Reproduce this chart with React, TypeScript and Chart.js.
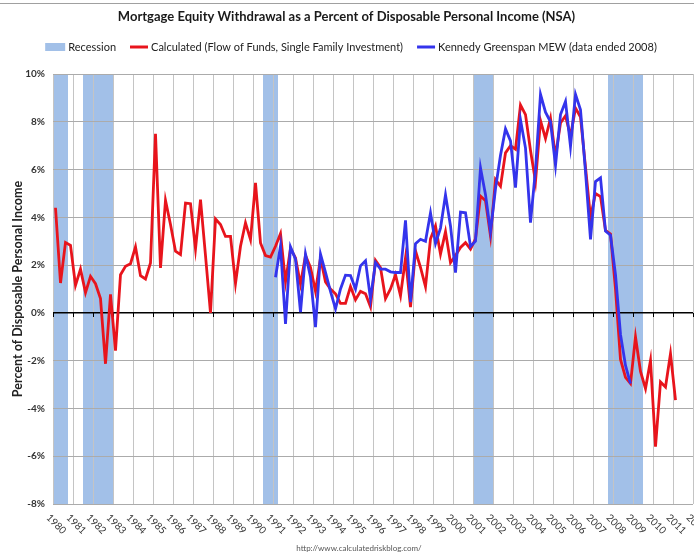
import React, { useEffect, useRef } from 'react';
import { Chart, registerables } from 'chart.js';

Chart.register(...registerables);

const chartTitle = 'Mortgage Equity Withdrawal as a Percent of Disposable Personal Income (NSA)';
const yAxisTitle = 'Percent of Disposable Personal Income';
const sourceText = 'http://www.calculatedriskblog.com/';
const legendLabels = [
  'Recession',
  'Calculated (Flow of Funds, Single Family Investment)',
  'Kennedy Greenspan MEW (data ended 2008)',
];

const yearLabels = [
  '1980', '1981', '1982', '1983', '1984', '1985', '1986', '1987', '1988', '1989',
  '1990', '1991', '1992', '1993', '1994', '1995', '1996', '1997', '1998', '1999',
  '2000', '2001', '2002', '2003', '2004', '2005', '2006', '2007', '2008', '2009',
  '2010', '2011', '2012',
];
const yMin = -8;
const yMax = 10;
const yStep = 2;

// Quarterly series, percent of disposable personal income
const calculatedStart = '1980Q1';
const calculated = [
  4.4, 1.25, 2.95, 2.83, // 1980
  1.15, 1.83, 0.85, 1.53, // 1981
  1.22, 0.6, -2.13, 0.78, // 1982
  -1.58, 1.6, 1.95, 2.06, // 1983
  2.76, 1.56, 1.42, 2.09, // 1984
  7.5, 1.88, 4.71, 3.7, // 1985
  2.58, 2.44, 4.6, 4.57, // 1986
  2.68, 4.74, 2.4, 0.0, // 1987
  3.93, 3.7, 3.2, 3.2, // 1988
  1.23, 2.79, 3.77, 3.07, // 1989
  5.44, 2.93, 2.4, 2.34, // 1990
  2.79, 3.32, 1.3, 2.7, // 1991
  2.3, 1.2, 2.4, 1.9, // 1992
  0.9, 2.3, 1.3, 1.0, // 1993
  0.8, 0.4, 0.4, 1.1, // 1994
  0.55, 0.9, 0.8, 0.25, // 1995
  2.2, 1.9, 0.6, 1.0, // 1996
  1.6, 0.72, 2.3, 0.24, // 1997
  2.6, 1.9, 1.1, 3.1, // 1998
  3.64, 2.46, 3.4, 2.1, // 1999
  2.4, 2.74, 2.94, 2.67, // 2000
  3.1, 4.89, 4.7, 3.22, // 2001
  5.58, 5.3, 6.7, 7.0, // 2002
  6.85, 8.7, 8.3, 6.8, // 2003
  5.5, 8.05, 7.3, 8.15, // 2004
  6.55, 7.95, 8.25, 7.4, // 2005
  8.57, 8.2, 6.1, 4.0, // 2006
  5.0, 4.87, 3.45, 3.3, // 2007
  1.0, -1.95, -2.7, -2.96, // 2008
  -1.01, -2.45, -3.17, -1.99, // 2009
  -5.6, -2.89, -3.1, -1.71, // 2010
  -3.65, // 2011
];

const kennedyStart = '1991Q1';
const kennedy = [
  1.49, 2.8, -0.46, 2.76, // 1991
  2.25, 0.03, 2.46, 1.5, // 1992
  -0.6, 2.46, 1.7, 0.9, // 1993
  0.17, 1.0, 1.58, 1.56, // 1994
  1.0, 1.97, 2.18, 0.58, // 1995
  2.11, 1.83, 1.83, 1.72, // 1996
  1.69, 1.69, 3.87, 0.45, // 1997
  2.9, 3.08, 3.0, 4.19, // 1998
  2.9, 3.55, 4.94, 3.64, // 1999
  1.69, 4.22, 4.19, 2.78, // 2000
  3.0, 6.07, 4.95, 3.4, // 2001
  5.2, 6.6, 7.7, 7.2, // 2002
  5.24, 8.08, 6.9, 3.78, // 2003
  6.0, 9.15, 8.4, 8.0, // 2004
  6.17, 8.3, 8.85, 6.97, // 2005
  9.15, 8.5, 5.9, 3.08, // 2006
  5.5, 5.65, 3.43, 3.25, // 2007
  1.6, -0.9, -2.2, -2.96, // 2008
];

const recessionStartQuarters = ['1980Q1', '1981Q3', '1990Q3', '2001Q1', '2007Q4'];
const recessionEndQuarters = ['1980Q3', '1982Q4', '1991Q1', '2001Q4', '2009Q2'];

const RED = '#e8141c';
const BLUE = '#3434ec';
const RECESSION = '#a2c0e8';
const FONT = 'Lato, "Open Sans", sans-serif';

function parseQuarter(q: string) {
  const [y, n] = q.split('Q');
  return { year: Number(y), q: Number(n) };
}
function quarterMid(q: string) {
  const p = parseQuarter(q);
  return p.year + (p.q - 0.5) / 4;
}
function quarterStartX(q: string) {
  const p = parseQuarter(q);
  return p.year + (p.q - 1) / 4;
}
function quarterEndX(q: string) {
  const p = parseQuarter(q);
  return p.year + p.q / 4;
}
function quarterLabels(start: string, count: number) {
  const p = parseQuarter(start);
  const out: string[] = [];
  for (let i = 0; i < count; i++) {
    const k = (p.q - 1) + i;
    out.push(`${p.year + Math.floor(k / 4)}Q${(k % 4) + 1}`);
  }
  return out;
}

const calculatedQuarters = quarterLabels(calculatedStart, calculated.length);
const kennedyQuarters = quarterLabels(kennedyStart, kennedy.length);

const decorPlugin = {
  id: 'decor',
  beforeDraw(chart: any) {
    const { ctx, chartArea: a, scales } = chart;
    const x = scales.x;
    ctx.save();
    ctx.fillStyle = RECESSION;
    recessionStartQuarters.forEach((s, i) => {
      const x0 = x.getPixelForValue(quarterStartX(s));
      const x1 = x.getPixelForValue(quarterEndX(recessionEndQuarters[i]));
      ctx.fillRect(x0, a.top, x1 - x0, a.bottom - a.top);
    });
    ctx.restore();
  },
  beforeDatasetsDraw(chart: any) {
    const { ctx, scales } = chart;
    const x = scales.x;
    const y0 = Math.round(scales.y.getPixelForValue(0));
    ctx.save();
    ctx.strokeStyle = '#000';
    ctx.lineWidth = 1;
    x.ticks.forEach((t: any) => {
      const px = Math.round(x.getPixelForValue(t.value)) + 0.5;
      ctx.beginPath();
      ctx.moveTo(px, y0);
      ctx.lineTo(px, y0 + 4);
      ctx.stroke();
    });
    ctx.restore();
  },
  afterDraw(chart: any) {
    const { ctx, chartArea: a, scales } = chart;
    const x = scales.x;
    ctx.save();
    // top rule
    ctx.strokeStyle = '#a0a0a0';
    ctx.lineWidth = 1;
    ctx.beginPath();
    ctx.moveTo(0, 3.5);
    ctx.lineTo(chart.width, 3.5);
    ctx.stroke();

    // x tick labels, rotated clockwise
    ctx.font = `10px ${FONT}`;
    ctx.fillStyle = '#333';
    ctx.textAlign = 'left';
    ctx.textBaseline = 'middle';
    x.ticks.forEach((t: any) => {
      const label = yearLabels[Math.round(t.value) - Number(yearLabels[0])];
      if (!label) return;
      const px = x.getPixelForValue(t.value);
      ctx.save();
      ctx.translate(px - 5, a.bottom + 12);
      ctx.rotate(Math.PI / 4);
      ctx.fillText(label, 0, 0);
      ctx.restore();
    });

    // legend
    ctx.font = `11px ${FONT}`;
    ctx.fillStyle = '#222';
    const items = [
      { text: legendLabels[0], kind: 'box', color: RECESSION, w: 20 },
      { text: legendLabels[1], kind: 'line', color: RED, w: 18 },
      { text: legendLabels[2], kind: 'line', color: BLUE, w: 18 },
    ];
    const gapMarker = 3;
    const gapItem = 14;
    const widths = items.map((it) => it.w + gapMarker + ctx.measureText(it.text).width);
    const total = widths.reduce((s, w) => s + w, 0) + gapItem * (items.length - 1);
    let cx = chart.width / 2 + 4 - total / 2;
    const cy = 47;
    items.forEach((it, i) => {
      if (it.kind === 'box') {
        ctx.fillStyle = it.color;
        ctx.fillRect(cx, cy - 4, it.w, 8);
      } else {
        ctx.strokeStyle = it.color;
        ctx.lineWidth = 3;
        ctx.beginPath();
        ctx.moveTo(cx, cy);
        ctx.lineTo(cx + it.w, cy);
        ctx.stroke();
      }
      ctx.fillStyle = '#222';
      ctx.textAlign = 'left';
      ctx.textBaseline = 'middle';
      ctx.fillText(it.text, cx + it.w + gapMarker, cy);
      cx += widths[i] + gapItem;
    });

    // source
    ctx.font = `8px ${FONT}`;
    ctx.fillStyle = '#555';
    ctx.textAlign = 'center';
    ctx.textBaseline = 'middle';
    ctx.fillText(sourceText, 359, 548);
    ctx.restore();
  },
};

export default function App() {
  const ref = useRef<HTMLCanvasElement>(null);
  useEffect(() => {
    const calcPoints = calculated.map((v, i) => ({ x: quarterMid(calculatedQuarters[i]), y: v }));
    const kenPoints = kennedy.map((v, i) => ({ x: quarterMid(kennedyQuarters[i]), y: v }));
    const chart = new Chart(ref.current as HTMLCanvasElement, {
      type: 'line',
      data: {
        datasets: [
          {
            label: legendLabels[1],
            data: calcPoints,
            borderColor: RED,
            backgroundColor: RED,
            borderWidth: 2.8,
            pointRadius: 0,
            tension: 0,
            order: 2,
          },
          {
            label: legendLabels[2],
            data: kenPoints,
            borderColor: BLUE,
            backgroundColor: BLUE,
            borderWidth: 2.8,
            pointRadius: 0,
            tension: 0,
            order: 1,
          },
        ],
      },
      options: {
        responsive: false,
        animation: false,
        layout: { padding: { left: 0, right: 1, top: 0, bottom: 0 } },
        plugins: {
          legend: { display: false },
          tooltip: { enabled: false },
          title: {
            display: true,
            text: chartTitle,
            color: '#1a1a1a',
            font: { family: FONT, size: 13, weight: 'bold' },
            padding: { top: 9, bottom: 49.4 },
          },
        },
        scales: {
          x: {
            type: 'linear',
            min: Number(yearLabels[0]),
            max: Number(yearLabels[yearLabels.length - 1]),
            ticks: { display: false, stepSize: 1, autoSkip: false, maxTicksLimit: 100 },
            grid: { color: '#c4c4c4', lineWidth: 1, drawTicks: false },
            border: { display: false },
            afterFit: (s: any) => {
              s.height = 49;
            },
          },
          y: {
            min: yMin,
            max: yMax,
            ticks: {
              stepSize: yStep,
              callback: (v: any) => `${v}%`,
              color: '#333',
              font: { family: FONT, size: 10, weight: 'bold' },
              padding: 8,
            },
            grid: {
              color: (c: any) => (c.tick && c.tick.value === 0 ? '#000' : '#ababab'),
              lineWidth: (c: any) => (c.tick && c.tick.value === 0 ? 1.5 : 1),
              drawTicks: false,
            },
            border: { display: false },
            title: {
              display: true,
              text: yAxisTitle,
              color: '#222',
              font: { family: FONT, size: 12.5, weight: 'bold' },
              padding: { top: 10, bottom: 0 },
            },
            afterFit: (s: any) => {
              s.width = 53;
            },
          },
        },
      },
      plugins: [decorPlugin],
    });
    return () => chart.destroy();
  }, []);
  return (
    <div style={{ position: 'fixed', left: 0, top: 0, width: 694, height: 553, background: '#fff' }}>
      <canvas ref={ref} width={694} height={553} style={{ display: 'block' }} />
    </div>
  );
}
